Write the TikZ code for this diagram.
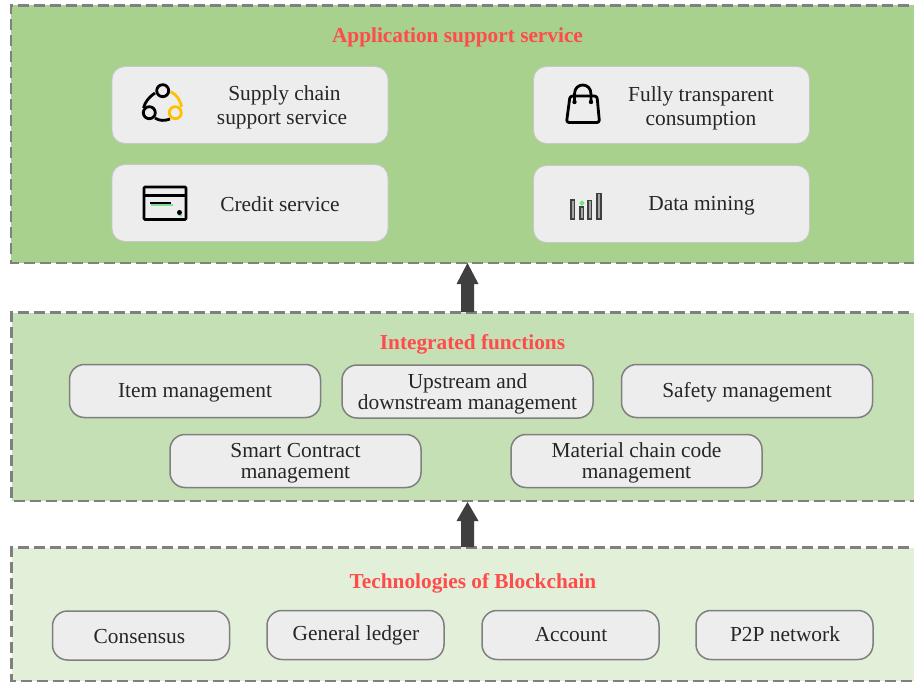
\documentclass[tikz,border=0pt]{standalone}
\usepackage{fontspec}
\setmainfont{Liberation Serif}
\usetikzlibrary{arrows.meta}
\definecolor{txt}{HTML}{262626}
\definecolor{redt}{HTML}{FF4B4B}
\definecolor{dashc}{HTML}{7F7F7F}
\definecolor{lay1}{HTML}{A9D18E}
\definecolor{lay2}{HTML}{C5E0B4}
\definecolor{lay3}{HTML}{E2F0D9}
\definecolor{boxc}{HTML}{EDEDED}
\definecolor{arrc}{HTML}{3F3F3F}
\definecolor{ygold}{HTML}{FFC000}
\definecolor{gleaf}{HTML}{7FDD8F}
\tikzset{
 x=1pt,y=-1pt,
 layer/.style={draw=dashc,line width=2.6pt,dash pattern=on 11pt off 5pt},
 title/.style={text=redt,font=\bfseries\fontsize{21.3}{24}\selectfont,inner sep=0pt},
 svc/.style={draw=black!22,line width=.8pt,fill=boxc,rounded corners=13pt,inner sep=0pt},
 fnbox/.style={draw=dashc,line width=1.5pt,fill=boxc,rounded corners=15pt,inner sep=0pt},
 up/.style={draw=none,fill=arrc},
 ico/.style={draw=black,line width=2.8pt,line join=round},
 lab/.style={text=txt,font=\fontsize{21.4}{24.5}\selectfont,align=center,inner sep=0pt},
 fnlab/.style={text=txt,font=\fontsize{21.4}{21}\selectfont,align=center,inner sep=0pt},
 barico/.style={draw=black!75,fill=black!35,line width=1.5pt},
}
\begin{document}
\begin{tikzpicture}
\useasboundingbox (0,0) rectangle (914,682);
\fill[white] (0,0) rectangle (914,682);
% layers
\draw[layer,fill=lay1] (925,5.5) -- (11,5.5) -- (11,263) -- (925,263);
\draw[layer,fill=lay2] (925,312.5) -- (11.5,312.5) -- (11.5,501) -- (925,501);
\draw[layer,fill=lay3] (925,547.5) -- (11.5,547.5) -- (11.5,681) -- (925,681);
% arrows
\coordinate (a1b) at (467.5,312);\coordinate (a1t) at (467.5,263);
\coordinate (a2b) at (467.5,547);\coordinate (a2t) at (467.5,502);
\fill[up] (a1b)++(-6.5,0) -- ++(0,-28) -- ++(-4.5,0) -- (a1t) -- (478.5,284) -- ++(-4.5,0) -- ++(0,28) -- cycle;
\fill[up] (a2b)++(-6.5,0) -- ++(0,-26) -- ++(-4.5,0) -- (a2t) -- (478.5,521) -- ++(-4.5,0) -- ++(0,26) -- cycle;
% titles
\node[title] (t1) at (457.5,37.5) {Application support service};
\node[title] (t2) at (472.5,344.5) {Integrated functions};
\node[title] (t3) at (473,583.5) {Technologies of Blockchain};
% top boxes
\node[svc,minimum width=276pt,minimum height=77pt] (s1) at (250,105) {};
\node[svc,minimum width=276pt,minimum height=77pt] (s2) at (250,203) {};
\node[svc,minimum width=276pt,minimum height=77pt] (s3) at (671.5,105) {};
\node[svc,minimum width=276pt,minimum height=77pt] (s4) at (671.5,204) {};
\node[lab,anchor=base] (l1) at (284.5,100.7) {Supply chain};
\node[lab,anchor=base] (l1b) at (282,125) {support service};
\node[lab] (l2) at (280,204) {Credit service};
\node[lab] (l3) at (701,108.5) {Fully transparent\\consumption};
\node[lab] (l4) at (701.5,206) {Data mining};
% middle
\node[fnbox,minimum width=251pt,minimum height=53pt] (f1) at (195,391) {};
\node[fnbox,minimum width=251pt,minimum height=53pt] (f2) at (467.5,391.5) {};
\node[fnbox,minimum width=251pt,minimum height=53pt] (f3) at (747,391) {};
\node[fnbox,minimum width=251pt,minimum height=53pt] (f4) at (295.5,461) {};
\node[fnbox,minimum width=251pt,minimum height=53pt] (f5) at (636.5,461) {};
\node[fnlab] at (195,392.5) {Item management};
\node[fnlab] at (467.5,393.5) {Upstream and\\downstream management};
\node[fnlab] at (747,392) {Safety management};
\node[fnlab] at (295.5,463) {Smart Contract\\management};
\node[fnlab] at (636.5,463) {Material chain code\\management};
% bottom
\node[fnbox,minimum width=177pt,minimum height=49pt] (b1) at (141,635.5) {};
\node[fnbox,minimum width=177pt,minimum height=49pt] (b2) at (355.5,635) {};
\node[fnbox,minimum width=177pt,minimum height=49pt] (b3) at (570.5,635) {};
\node[fnbox,minimum width=177pt,minimum height=49pt] (b4) at (784.5,635) {};
\node[fnlab] at (139.5,636.5) {Consensus};
\node[fnlab] at (356,635) {General ledger};
\node[fnlab] at (571,634.5) {Account};
\node[fnlab] at (785,634) {P2P network};
% icon: supply chain
\draw[ygold,line width=2.8pt] (170.7,91.7) .. controls (177,95) and (180,100) .. (181.7,106.7);
\draw[ygold,line width=2.8pt] (175.3,112.7) circle[radius=6];
\draw[ico] (155,93) .. controls (149,97) and (145,102) .. (143.5,108);
\draw[ico] (155,118) .. controls (159,121) and (165,121) .. (170,119);
\draw[ico] (162.7,90.7) circle[radius=6];
\draw[ico] (149.3,112.7) circle[radius=6];
% icon: card
\draw[ico,rounded corners=1pt] (144,187) rectangle (186,219.5);
\draw[ico] (144,195.5) -- (186,195.5);
\draw[gleaf,line width=2pt] (151,205.5) -- (173,205.5);
\draw[black,line width=2.4pt] (150,203) -- (171,203);
\draw[gleaf,line width=2pt] (178,214) -- (182,216);
\fill[black] (179.5,212.5) circle[radius=2.5];
% icon: bag
\draw[ico,rounded corners=2.5pt] (570,96) -- (597,96) -- (599.5,122.5) -- (566.5,122.5) -- cycle;
\draw[ico] (574.5,102) -- (574.5,94) .. controls (574.5,82) and (591,82) .. (591,94) -- (591,102);
\fill[black] (574.5,102) circle[radius=2.2] (591,102) circle[radius=2.2];
% icon: bars
\draw[barico] (571,200) rectangle (574.5,219);
\draw[barico] (580,207) rectangle (583.5,219);
\draw[barico] (588,200.5) rectangle (591.5,219);
\draw[barico] (597,193.5) rectangle (601,219);
\draw[gleaf!70!green,line width=1.2pt] (582,203) circle[radius=1.8];
\end{tikzpicture}
\end{document}
